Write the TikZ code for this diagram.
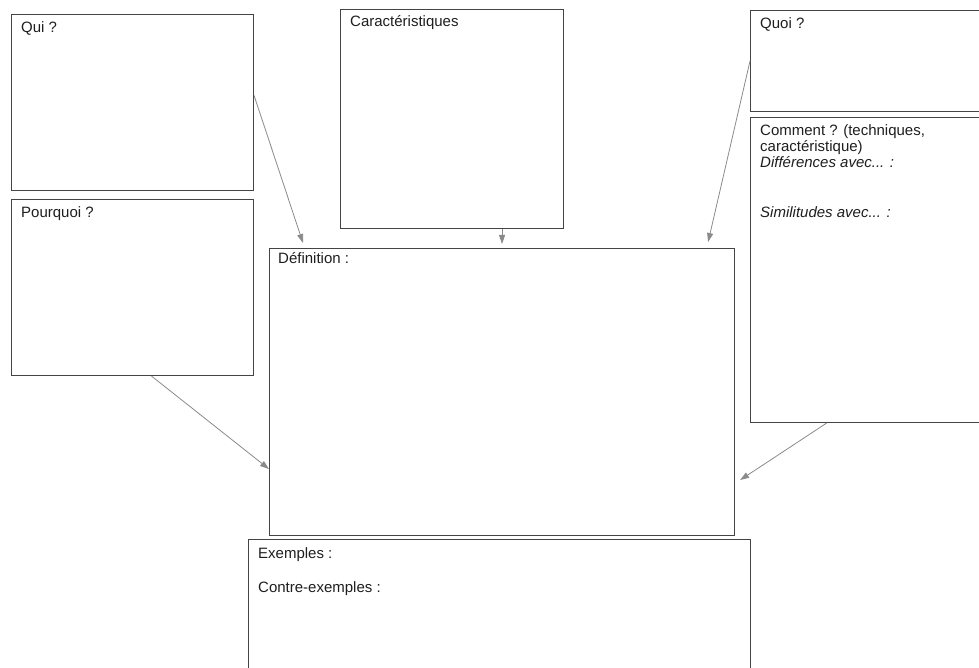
\documentclass[tikz,border=0pt]{standalone}
\usepackage{fontspec}
\setmainfont{Liberation Sans}
\usetikzlibrary{arrows.meta}
\definecolor{boxline}{HTML}{444444}
\definecolor{arrowcol}{HTML}{8A8A8A}
\definecolor{txt}{HTML}{1E1E1E}
\begin{document}
\begin{tikzpicture}[x=1pt,y=-1pt,
  box/.style={draw=boxline,line width=1.1pt,rectangle,inner sep=0pt,anchor=north west},
  lbl/.style={anchor=base west,inner sep=0pt,text=txt,font=\fontsize{15}{16}\selectfont},
  conn/.style={draw=arrowcol,line width=0.8pt,-{Triangle[length=9pt,width=6pt]}}]
\useasboundingbox (0,0) rectangle (979,668);
\clip (0,0) rectangle (979,668);
% boxes
\node[box,minimum width=242pt,minimum height=176pt] (qui) at (11,14) {};
\node[box,minimum width=242pt,minimum height=176pt] (pourquoi) at (11,199) {};
\node[box,minimum width=223pt,minimum height=219pt] (carac) at (340,9) {};
\node[box,minimum width=236pt,minimum height=101pt] (quoi) at (750,10) {};
\node[box,minimum width=236pt,minimum height=305pt] (comment) at (750,117) {};
\node[box,minimum width=465pt,minimum height=287pt] (def) at (269,248) {};
\node[box,minimum width=502pt,minimum height=140pt] (ex) at (248,539) {};
% labels
\node[lbl] (tqui) at (21,33) {Qui ?};
\node[lbl] (tpourquoi) at (21,218) {Pourquoi ?};
\node[lbl] (tcarac) at (350,27) {Caractéristiques};
\node[lbl] (tquoi) at (760,29) {Quoi ?};
\node[lbl] (tcomment1) at (760,136) {Comment ? (techniques,};
\node[lbl] (tcomment2) at (760,152) {caractéristique)};
\node[lbl] (tdiff) at (760,168) {\itshape Différences avec... :};
\node[lbl] (tsimil) at (760,218) {\itshape Similitudes avec... :};
\node[lbl] (tdef) at (278,264) {Définition :};
\node[lbl] (tex) at (258,558) {Exemples :};
\node[lbl] (tcontre) at (258,592) {Contre-exemples :};
% connectors
\draw[conn] ([yshift=7pt]qui.east) -- ([xshift=34pt,yshift=5pt]def.north west);
\draw[conn] (carac.south -| def.north) -- ([yshift=4pt]def.north);
\draw[conn] (quoi.west) -- ([xshift=-27pt,yshift=6pt]def.north east);
\draw[conn] ([xshift=19pt]pourquoi.south) -- ([yshift=-77pt]def.west);
\draw[conn] ([xshift=-42pt]comment.south) -- ([xshift=5pt,yshift=-88pt]def.east);
\end{tikzpicture}
\end{document}
